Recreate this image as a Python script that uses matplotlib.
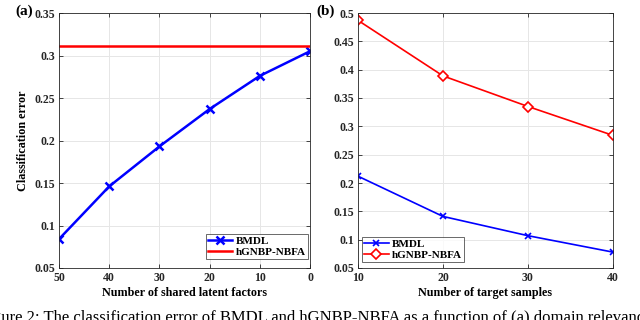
import numpy as np
import matplotlib.pyplot as plt

plt.rcParams['font.family'] = ['Liberation Serif', 'DejaVu Serif']
plt.rcParams['font.weight'] = 'bold'

# panel (a)
factors = [50, 40, 30, 20, 10, 0]
bmdl_a = [0.084, 0.146, 0.193, 0.237, 0.276, 0.305]
hgnbp_a = 0.311

# panel (b)
samples = [10, 20, 30, 40]
bmdl_b = [0.212, 0.141, 0.107, 0.078]
hgnbp_b = [0.487, 0.389, 0.335, 0.284]

caption = ("Figure 2: The classification error of BMDL and hGNBP-NBFA as a "
           "function of (a) domain relevance")

fig = plt.figure(figsize=(6.4, 3.2), dpi=100)
ax1 = fig.add_axes([59/640, 1-268/320, 251/640, 255/320])
ax2 = fig.add_axes([358/640, 1-268/320, 255/640, 255/320])

def style(ax):
    ax.grid(True, color='#e6e6e6', linewidth=0.7)
    ax.set_axisbelow(True)
    for s in ax.spines.values():
        s.set_color('#262626')
        s.set_linewidth(0.6)
    ax.tick_params(direction='in', length=3, width=0.6, labelsize=8.5, pad=3,
                   top=True, right=True, colors='#262626')
    for lab in ax.get_xticklabels() + ax.get_yticklabels():
        lab.set_fontweight('bold')

ax1.plot(factors, bmdl_a, color='blue', linewidth=1.8, marker='x',
         markersize=6, markeredgewidth=1.8, label='BMDL')
ax1.axhline(hgnbp_a, color='red', linewidth=1.8, label='hGNBP-NBFA')
ax1.set_xlim(50, 0)
ax1.set_ylim(0.05, 0.35)
ax1.set_xticks([50, 40, 30, 20, 10, 0])
ax1.set_yticks(np.arange(0.05, 0.351, 0.05))
ax1.set_yticklabels(['0.05', '0.1', '0.15', '0.2', '0.25', '0.3', '0.35'])
ax1.set_xlabel('Number of shared latent factors', fontsize=8.7, fontweight='bold', labelpad=2)
ax1.set_ylabel('Classification error', fontsize=8.7, fontweight='bold', labelpad=4)
style(ax1)
leg1 = ax1.legend(loc='lower right', bbox_to_anchor=(1-2/251, 9/255),
                  borderaxespad=0, fontsize=8, frameon=True, fancybox=False,
                  edgecolor='#262626', borderpad=0.2, handlelength=2.2,
                  handletextpad=0.3, labelspacing=0.1)
leg1.get_frame().set_linewidth(0.6)

ax2.plot(samples, bmdl_b, color='blue', linewidth=1.2, marker='x',
         markersize=5, markeredgewidth=1.2, label='BMDL')
ax2.plot(samples, hgnbp_b, color='red', linewidth=1.2, marker='D',
         markersize=5.5, markerfacecolor='white', markeredgewidth=1.2,
         label='hGNBP-NBFA')
ax2.set_xlim(10, 40)
ax2.set_ylim(0.05, 0.5)
ax2.set_xticks(samples)
ax2.set_yticks(np.arange(0.05, 0.501, 0.05))
ax2.set_yticklabels(['0.05', '0.1', '0.15', '0.2', '0.25', '0.3', '0.35',
                     '0.4', '0.45', '0.5'])
ax2.set_xlabel('Number of target samples', fontsize=8.7, fontweight='bold', labelpad=2)
style(ax2)
leg2 = ax2.legend(loc='lower left', bbox_to_anchor=(4/255, 6/255),
                  borderaxespad=0, fontsize=8, frameon=True, fancybox=False,
                  edgecolor='#262626', borderpad=0.2, handlelength=2.2,
                  handletextpad=0.3, labelspacing=0.1)
leg2.get_frame().set_linewidth(0.6)

fig.text(15/640, 1-15/320, '(a)', fontsize=11, fontweight='bold')
fig.text(316/640, 1-15/320, '(b)', fontsize=11, fontweight='bold')
fig.text(-21/640, 1-322/320, caption, fontsize=12, fontweight='normal',
         va='baseline')

fig.savefig('out.png', dpi=100)
